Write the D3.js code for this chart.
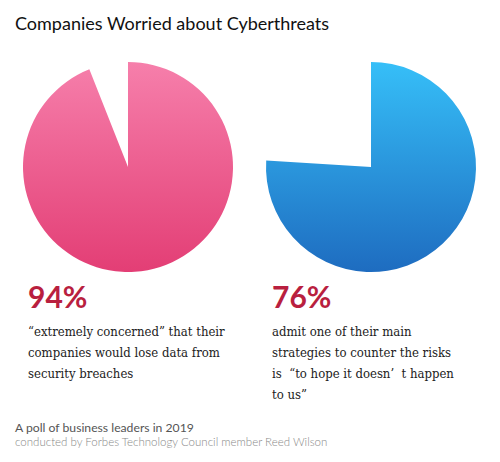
<!DOCTYPE html>
<html>
<head>
<meta charset="utf-8">
<script src="https://cdn.jsdelivr.net/npm/d3@7"></script>
<style>
  html, body { margin: 0; padding: 0; background: #fff; }
  svg { display: block; }
</style>
</head>
<body>
<svg id="chart" width="500" height="462"></svg>
<script>
// ---- Data ----
const title = "Companies Worried about Cyberthreats";
const percentages = [94, 76];
const percentLabels = ["94%", "76%"];
const descriptions = [
  ["\u201cextremely concerned\u201d that their", "companies would lose data from", "security breaches"],
  ["admit one of their main", "strategies to counter the risks", "is  \u201cto hope it doesn\u2019  t happen", "to us\u201d"]
];
const footnotes = ["A poll of business leaders in 2019", "conducted by Forbes Technology Council member Reed Wilson"];
const gradients = [["#F67FAB", "#E33E75"], ["#36BFF8", "#1E6CC0"]];

// ---- Layout ----
const svg = d3.select("#chart");
const R = 105;
const centersX = [128, 371];
const centerY = 167;
const textX = [28, 272];

const defs = svg.append("defs");
gradients.forEach((g, i) => {
  const lg = defs.append("linearGradient")
    .attr("id", "grad" + i)
    .attr("gradientUnits", "userSpaceOnUse")
    .attr("x1", 0).attr("y1", -R)
    .attr("x2", 0).attr("y2", R);
  lg.append("stop").attr("offset", "0%").attr("stop-color", g[0]);
  lg.append("stop").attr("offset", "100%").attr("stop-color", g[1]);
});

svg.append("text")
  .attr("x", 15).attr("y", 30)
  .attr("font-family", "Lato, 'Open Sans', sans-serif")
  .attr("font-size", 18)
  .attr("fill", "#111")
  .text(title);

const angle = d3.scaleLinear().domain([0, 100]).range([0, 2 * Math.PI]);
const arc = d3.arc().innerRadius(0).outerRadius(R);

percentages.forEach((p, i) => {
  const g = svg.append("g").attr("transform", `translate(${centersX[i]},${centerY})`);
  g.append("path")
    .datum({ startAngle: angle(0), endAngle: angle(p) })
    .attr("d", arc)
    .attr("fill", `url(#grad${i})`);

  svg.append("text")
    .attr("x", textX[i]).attr("y", 308)
    .attr("font-family", "Lato, 'Open Sans', sans-serif")
    .attr("font-weight", "bold")
    .attr("font-size", 30)
    .attr("fill", "#B91F3F")
    .text(percentLabels[i]);

  descriptions[i].forEach((line, j) => {
    svg.append("text")
      .attr("x", textX[i]).attr("y", 336 + j * 21)
      .attr("font-family", "'DejaVu Serif', serif")
      .attr("font-size", 13)
      .attr("font-stretch", "condensed")
      .style("font-stretch", "condensed")
      .attr("fill", "#222")
      .attr("xml:space", "preserve")
      .style("white-space", "pre")
      .text(line);
  });
});

svg.append("text")
  .attr("x", 15).attr("y", 432)
  .attr("font-family", "Lato, 'Open Sans', sans-serif")
  .attr("font-size", 12.2)
  .attr("fill", "#555")
  .text(footnotes[0]);
svg.append("text")
  .attr("x", 15).attr("y", 446)
  .attr("font-family", "Lato, 'Open Sans', sans-serif")
  .attr("font-size", 11.5)
  .attr("font-weight", 300)
  .attr("fill", "#888")
  .text(footnotes[1]);
</script>
</body>
</html>
